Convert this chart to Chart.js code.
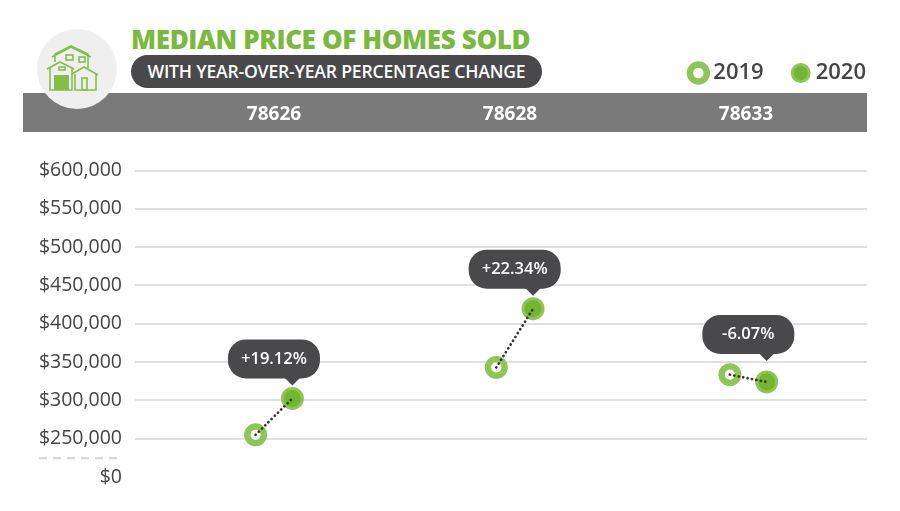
<!DOCTYPE html>
<html>
<head>
<meta charset="utf-8">
<title>Median price of homes sold</title>
<script src="https://cdn.jsdelivr.net/npm/chart.js@4"></script>
<style>
  html, body { margin: 0; padding: 0; background: #fff; }
  #page { position: relative; width: 900px; height: 511px; overflow: hidden; font-family: "Open Sans", sans-serif; }
  #band { position: absolute; left: 23px; top: 93px; width: 844px; height: 39px; background: #7a7a7b; }
  #badge { position: absolute; left: 37px; top: 29px; width: 80px; height: 80px; border-radius: 50%; background: #efefef; }
  #badge svg { position: absolute; left: 9px; top: 16px; }
  #heading { position: absolute; left: 131px; top: 22px; font-size: 26px; line-height: 34px; font-weight: 800; color: #7ab83f; letter-spacing: -0.38px; white-space: nowrap; }
  #pill { position: absolute; left: 131px; top: 55px; width: 411px; height: 33px; border-radius: 17px; background: #49494b; color: #fff; font-size: 17.6px; font-weight: 600; line-height: 33px; text-align: center; white-space: nowrap; letter-spacing: -0.2px; }
  canvas { position: absolute; left: 0; top: 0; }
</style>
</head>
<body>
<div id="page">
  <div id="band"></div>
  <div id="badge">
    <svg width="54" height="48" viewBox="0 0 54 48" fill="none" stroke="#86bd4a" stroke-width="1.6">
      <path d="M1 24 L14 17 L28 24 M4 23 V45 H26 V23"/>
      <path d="M9 17 V9 L25 1 L42 9 V23 M6 12 L25 2 L45 12"/>
      <path d="M26 29 L38 22 L52 30 M29 29 V45 H50 V29"/>
      <rect x="8" y="30" width="15" height="15" fill="#86bd4a" stroke="none"/>
      <rect x="13" y="22" width="6" height="3"/>
      <rect x="20" y="10" width="7" height="5"/>
      <rect x="33" y="12" width="6" height="5"/>
      <rect x="36" y="33" width="5" height="12"/>
    </svg>
  </div>
  <div id="heading">MEDIAN PRICE OF HOMES SOLD</div>
  <div id="pill">WITH YEAR-OVER-YEAR PERCENTAGE CHANGE</div>
  <canvas id="homes_chart" width="900" height="511"></canvas>
</div>
<script>
const zipCodes = ["78626", "78628", "78633"];
const price2019 = [255000, 343000, 333500];
const price2020 = [302500, 419600, 324000];
const changeLabels = ["+19.12%", "+22.34%", "-6.07%"];
const yTicks = [200000, 250000, 300000, 350000, 400000, 450000, 500000, 550000, 600000];

// the value axis jumps from $0 to $250,000, the bottom tick stands in for $0
const axisFloor = 200000;
const axisBreak = 224500;

const pairCentres = [0, 1.02, 2.01];
const pairHalfGap = 0.078;
const calloutLift = [0, 0, 8];

const ringGreen = "#8fc456";
const solidGreen = "#74b52f";
const darkGrey = "#49494b";
const legendGap = 33;

function fmtMoney(v) {
  if (v === axisFloor) return "$0";
  return "$" + v.toLocaleString("en-US");
}

// dashed mark for the axis break
const axisBreakPlugin = {
  id: "axisBreak",
  afterLayout(chart) {
    // legend counts a gap after its last item too, push it out so 2020 ends at the band edge
    chart.legend.right += legendGap - 1;
  },
  beforeDatasetsDraw(chart) {
    const y = chart.scales.y;
    const py = y.getPixelForValue(axisBreak);
    const ctx = chart.ctx;
    ctx.save();
    ctx.strokeStyle = "#d4d4d4";
    ctx.lineWidth = 2;
    ctx.setLineDash([8, 6]);
    ctx.beginPath();
    ctx.moveTo(y.left + 6, py);
    ctx.lineTo(y.right - 12, py);
    ctx.stroke();
    ctx.restore();
  }
};

// percentage bubbles, hung above each 2020 point
const calloutPlugin = {
  id: "callouts",
  afterDatasetsDraw(chart) {
    const ctx = chart.ctx;
    const pts = chart.getDatasetMeta(1).data;
    const x = chart.scales.x;
    ctx.save();
    changeLabels.forEach((txt, i) => {
      const p = pts[i];
      const cx = x.getPixelForValue(pairCentres[i]);
      const bottom = p.y - 20 - calloutLift[i];
      const w = 92, h = 39;
      ctx.fillStyle = darkGrey;
      ctx.beginPath();
      ctx.roundRect(cx - w / 2, bottom - h, w, h, 18);
      ctx.fill();
      ctx.beginPath();
      ctx.moveTo(p.x - 8, bottom - 1);
      ctx.lineTo(p.x + 8, bottom - 1);
      ctx.lineTo(p.x, bottom + 7);
      ctx.closePath();
      ctx.fill();
      ctx.fillStyle = "#fff";
      ctx.font = "600 16.5px 'Open Sans'";
      ctx.textAlign = "center";
      ctx.textBaseline = "middle";
      ctx.fillText(txt, cx, bottom - h / 2);
    });
    ctx.restore();
  }
};

const connectors = zipCodes.map((z, i) => ({
  label: "link " + z,
  data: [
    { x: pairCentres[i] - pairHalfGap, y: price2019[i] },
    { x: pairCentres[i] + pairHalfGap, y: price2020[i] }
  ],
  borderColor: "#333",
  borderWidth: 2.7,
  borderDash: [0.1, 4.4],
  borderCapStyle: "round",
  pointRadius: 0,
  order: 0
}));

const homes_chart = new Chart(document.getElementById("homes_chart"), {
  type: "line",
  data: {
    datasets: [{
      label: "2019",
      data: price2019.map((v, i) => ({ x: pairCentres[i] - pairHalfGap, y: v })),
      showLine: false,
      pointRadius: 8.3,
      pointBorderWidth: 6.4,
      pointBackgroundColor: "#fff",
      pointBorderColor: ringGreen,
      backgroundColor: "#fff",
      borderColor: ringGreen,
      order: 1
    }, {
      label: "2020",
      data: price2020.map((v, i) => ({ x: pairCentres[i] + pairHalfGap, y: v })),
      showLine: false,
      pointRadius: 10,
      pointBorderWidth: 3,
      pointBackgroundColor: solidGreen,
      pointBorderColor: ringGreen,
      backgroundColor: solidGreen,
      borderColor: ringGreen,
      order: 1
    }, ...connectors]
  },
  plugins: [axisBreakPlugin, calloutPlugin],
  options: {
    responsive: false,
    animation: false,
    layout: { padding: { left: 33, right: 33, top: 29, bottom: 34 } },
    plugins: {
      tooltip: { enabled: false },
      legend: {
        position: "top",
        align: "end",
        labels: {
          usePointStyle: true,
          pointStyle: "circle",
          boxWidth: 8,
          boxHeight: 12,
          padding: legendGap,
          color: "#444",
          font: { family: "'Open Sans'", size: 22, weight: "600" },
          filter: item => item.datasetIndex < 2
        }
      }
    },
    scales: {
      x: {
        type: "linear",
        position: "top",
        min: -0.589,
        max: 2.513,
        grid: { display: false },
        border: { display: false },
        afterBuildTicks: axis => { axis.ticks = zipCodes.map((z, i) => ({ value: i })); },
        afterFit: axis => { axis.height = 76.5; },
        ticks: {
          autoSkip: false,
          maxRotation: 0,
          padding: 37,
          color: "#fff",
          font: { family: "'Open Sans'", size: 19, weight: "700" },
          callback: v => zipCodes[v]
        }
      },
      y: {
        min: yTicks[0],
        max: yTicks[yTicks.length - 1],
        afterBuildTicks: axis => { axis.ticks = yTicks.map(v => ({ value: v })); },
        afterFit: axis => { axis.width = 102; },
        border: { display: false },
        grid: {
          drawTicks: false,
          lineWidth: 2,
          color: ctx => ctx.tick && ctx.tick.value === axisFloor ? "transparent" : "#e0e0e0"
        },
        ticks: {
          padding: 13,
          color: "#444",
          font: { family: "'Open Sans'", size: 19.5 },
          callback: fmtMoney
        }
      }
    }
  }
});
</script>
</body>
</html>
